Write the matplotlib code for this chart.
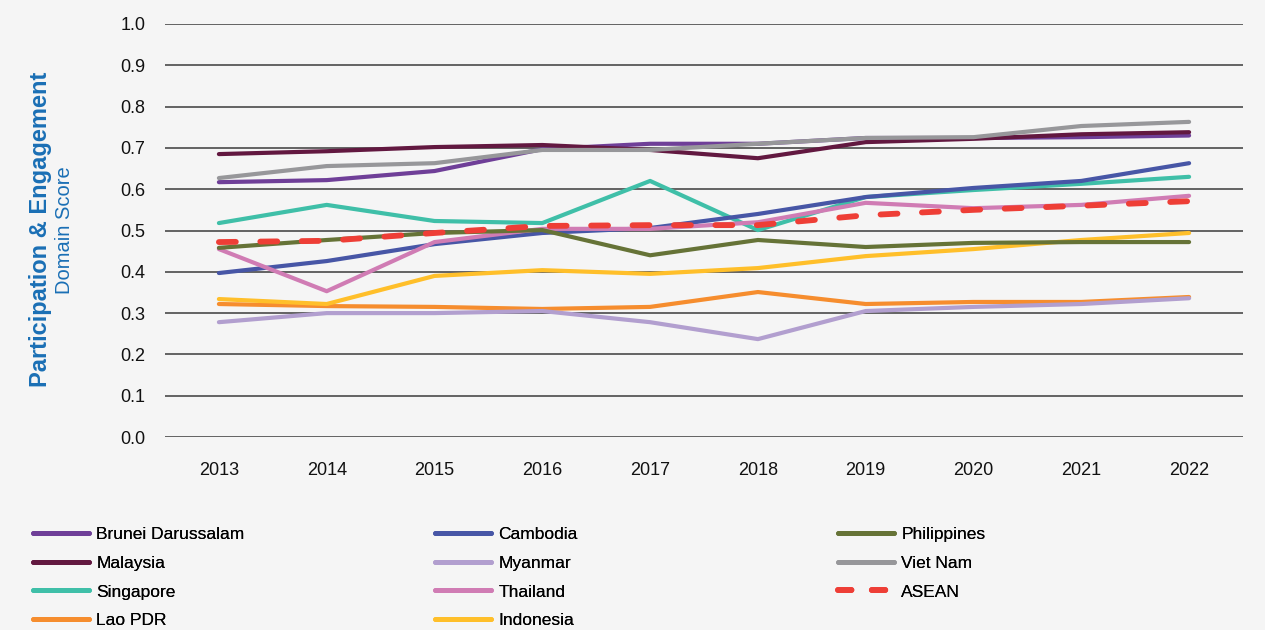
import matplotlib.pyplot as plt
from matplotlib.lines import Line2D

plt.rcParams['font.family'] = ['Liberation Sans', 'DejaVu Sans']

years = list(range(2013, 2023))

brunei = [0.617, 0.622, 0.644, 0.697, 0.710, 0.710, 0.724, 0.724, 0.726, 0.730]
malaysia = [0.685, 0.692, 0.702, 0.707, 0.695, 0.675, 0.714, 0.722, 0.733, 0.738]
singapore = [0.518, 0.562, 0.523, 0.518, 0.620, 0.501, 0.581, 0.598, 0.613, 0.630]
lao = [0.322, 0.317, 0.315, 0.310, 0.315, 0.351, 0.322, 0.327, 0.327, 0.339]
cambodia = [0.397, 0.426, 0.467, 0.494, 0.506, 0.540, 0.581, 0.603, 0.620, 0.663]
myanmar = [0.278, 0.300, 0.300, 0.305, 0.278, 0.237, 0.305, 0.315, 0.322, 0.336]
thailand = [0.455, 0.353, 0.472, 0.504, 0.504, 0.520, 0.567, 0.554, 0.562, 0.584]
indonesia = [0.334, 0.322, 0.390, 0.404, 0.395, 0.409, 0.438, 0.455, 0.477, 0.494]
philippines = [0.458, 0.477, 0.494, 0.501, 0.440, 0.477, 0.460, 0.470, 0.472, 0.472]
vietnam = [0.627, 0.656, 0.663, 0.695, 0.695, 0.710, 0.724, 0.726, 0.753, 0.763]
asean = [0.472, 0.475, 0.494, 0.511, 0.513, 0.513, 0.537, 0.550, 0.560, 0.571]

# legend columns (name, values, colour)
col1 = [("Brunei Darussalam", brunei, "#6f3f98"),
        ("Malaysia", malaysia, "#621840"),
        ("Singapore", singapore, "#3fbfa8"),
        ("Lao PDR", lao, "#f68d2e")]
col2 = [("Cambodia", cambodia, "#4756a6"),
        ("Myanmar", myanmar, "#b29fcf"),
        ("Thailand", thailand, "#d07cb4"),
        ("Indonesia", indonesia, "#ffbf2a")]
col3 = [("Philippines", philippines, "#667337"),
        ("Viet Nam", vietnam, "#97979a"),
        ("ASEAN", asean, "#ee3e36")]

bg = "#f5f5f5"
fig = plt.figure(figsize=(12.65, 6.30), dpi=100, facecolor=bg)
ax = fig.add_axes([165/1265, 1-437/630, (1243-165)/1265, (437-24)/630])
ax.set_facecolor(bg)

for yv in [i/10 for i in range(11)]:
    ax.axhline(yv, color="#4a4a4a", lw=1.2, zorder=1)

for col in (col1, col2, col3):
    for name, vals, c in col:
        if name == "ASEAN":
            ax.plot(years, vals, color=c, lw=4.2, dashes=(2.9, 4.2),
                    dash_capstyle='round', zorder=5)
        else:
            ax.plot(years, vals, color=c, lw=3, solid_capstyle='round', zorder=3)

ax.set_xlim(2012.5, 2022.5)
ax.set_ylim(0, 1.0)
ax.set_xticks(years)
ax.set_yticks([i/10 for i in range(11)])
ax.set_yticklabels([f"{i/10:.1f}" for i in range(11)])
ax.tick_params(length=0, labelsize=13, colors="#111111")
ax.tick_params(axis='y', pad=14)
ax.tick_params(axis='x', pad=18)
for s in ax.spines.values():
    s.set_visible(False)

fig.text(41/1265, 1-229/630, "Participation & Engagement", rotation=90,
         color="#1a6fb5", fontsize=17, fontweight='bold', ha='center', va='center')
fig.text(64/1265, 1-230/630, "Domain Score", rotation=90,
         color="#1a6fb5", fontsize=14.5, ha='center', va='center')

xs = [33/1265, 435/1265, 838/1265]
for x0, col in zip(xs, (col1, col2, col3)):
    hs = []
    for name, vals, c in col:
        if name == "ASEAN":
            hs.append(Line2D([], [], color=c, lw=4.2, dashes=(2.3, 3.5), dash_capstyle='round'))
        else:
            hs.append(Line2D([], [], color=c, lw=3.5, solid_capstyle='round'))
    leg = fig.legend(hs, [n for n, _, _ in col], loc='upper left',
                     bbox_to_anchor=(x0, 1-527/630), frameon=False,
                     fontsize=12.5, handlelength=3.2, handletextpad=0.45,
                     labelspacing=0.78, borderaxespad=0, borderpad=0)
    fig.add_artist(leg)

fig.savefig("out.png", dpi=100, facecolor=bg)
